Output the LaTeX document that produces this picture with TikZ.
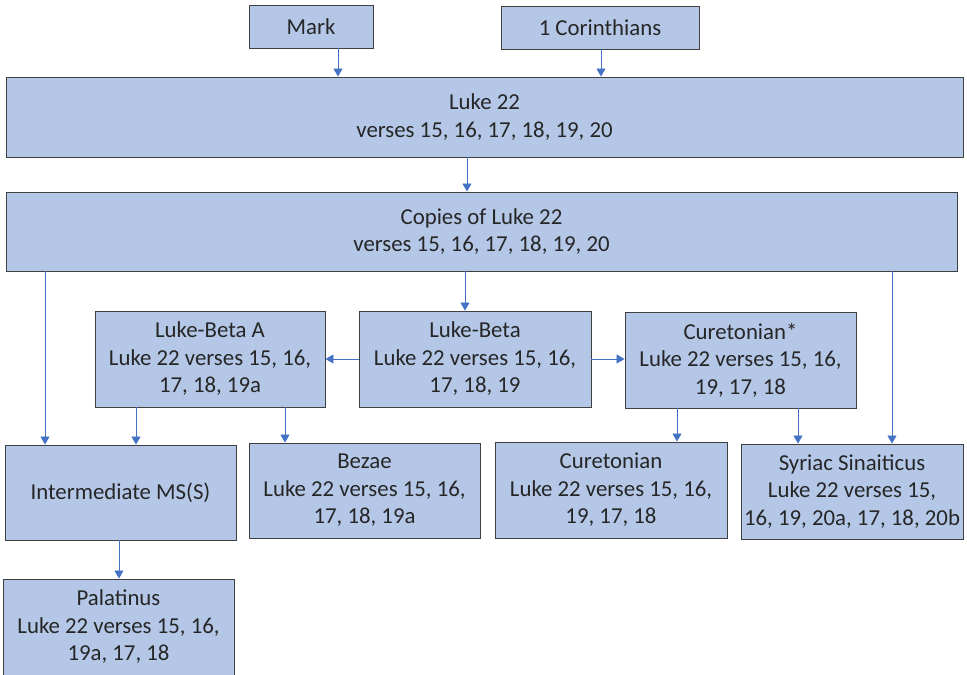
\documentclass[tikz,border=0pt]{standalone}
\usepackage{fontspec}
\setmainfont{Carlito}
\usetikzlibrary{arrows.meta}
\definecolor{boxfill}{HTML}{B4C7E7}
\definecolor{boxline}{HTML}{404040}
\definecolor{arrline}{HTML}{4472C4}
\begin{document}
\begin{tikzpicture}[x=1pt,y=-1pt,
  box/.style={draw=boxline,line width=0.9pt,fill=boxfill,text=black!85,
    align=center,inner sep=0pt,font=\fontsize{22.8}{27.5}\selectfont},
  arr/.style={draw=arrline,line width=0.8pt,-{Triangle[width=9pt,length=8pt]}}]
\useasboundingbox (0,0) rectangle (967,675);
% sources
\node[box,minimum width=124pt,minimum height=43pt] (mark) at (311,26.5) {Mark};
\node[box,minimum width=198pt,minimum height=43pt] (cor) at (600,27.5) {1 Corinthians};
\node[box,minimum width=957pt,minimum height=80pt] (luke) at (484.5,117) {Luke 22\\verses 15, 16, 17, 18, 19, 20};
\node[box,minimum width=951pt,minimum height=79pt] (copies) at (481.5,231.5) {Copies of Luke 22\\verses 15, 16, 17, 18, 19, 20};
% middle row
\node[box,minimum width=230pt,minimum height=96pt] (betaA) at (210,359) {Luke-Beta A\\Luke 22 verses 15, 16,\\17, 18, 19a};
\node[box,minimum width=232pt,minimum height=96pt] (beta) at (475,359) {Luke-Beta\\Luke 22 verses 15, 16,\\17, 18, 19};
\node[box,minimum width=231pt,minimum height=96pt] (curstar) at (740.5,360) {Curetonian*\\Luke 22 verses 15, 16,\\19, 17, 18};
% manuscripts
\node[box,minimum width=231pt,minimum height=95pt] (inter) at (120.5,492.5) {Intermediate MS(S)};
\node[box,minimum width=231pt,minimum height=95pt] (bezae) at (364.5,490.5) {Bezae\\Luke 22 verses 15, 16,\\17, 18, 19a};
\node[box,minimum width=232pt,minimum height=96pt] (cur) at (611,490) {Curetonian\\Luke 22 verses 15, 16,\\19, 17, 18};
\node[box,minimum width=222pt,minimum height=95pt] (syr) at (852,491.5) {Syriac Sinaiticus\\Luke 22 verses 15,\\16, 19, 20a, 17, 18, 20b};
\node[box,minimum width=231pt,minimum height=96pt] (pal) at (118.5,627) {Palatinus\\Luke 22 verses 15, 16,\\19a, 17, 18};
% arrows
\draw[arr] ([xshift=27pt]mark.south) -- ([xshift=27pt]mark.south |- luke.north);
\draw[arr] ([xshift=1pt]cor.south) -- ([xshift=1pt]cor.south |- luke.north);
\draw[arr] ([xshift=-17.5pt]luke.south) -- ([xshift=-17.5pt]luke.south |- copies.north);
\draw[arr] ([xshift=-10pt]beta.north |- copies.south) -- ([xshift=-10pt]beta.north);
\draw[arr] ([xshift=-75.5pt]inter.north |- copies.south) -- ([xshift=-75.5pt]inter.north);
\draw[arr] ([xshift=40pt]syr.north |- copies.south) -- ([xshift=40pt]syr.north);
\draw[arr] (beta.west) -- (betaA.east);
\draw[arr] (beta.east) -- (curstar.west |- beta.east);
\draw[arr] ([xshift=-74pt]betaA.south) -- ([xshift=-74pt]betaA.south |- inter.north);
\draw[arr] ([xshift=75pt]betaA.south) -- ([xshift=75pt]betaA.south |- bezae.north);
\draw[arr] ([xshift=-63.5pt]curstar.south) -- ([xshift=-63.5pt]curstar.south |- cur.north);
\draw[arr] ([xshift=57.5pt]curstar.south) -- ([xshift=57.5pt]curstar.south |- syr.north);
\draw[arr] ([xshift=-1.5pt]inter.south) -- ([xshift=-1.5pt]inter.south |- pal.north);
\end{tikzpicture}
\end{document}
